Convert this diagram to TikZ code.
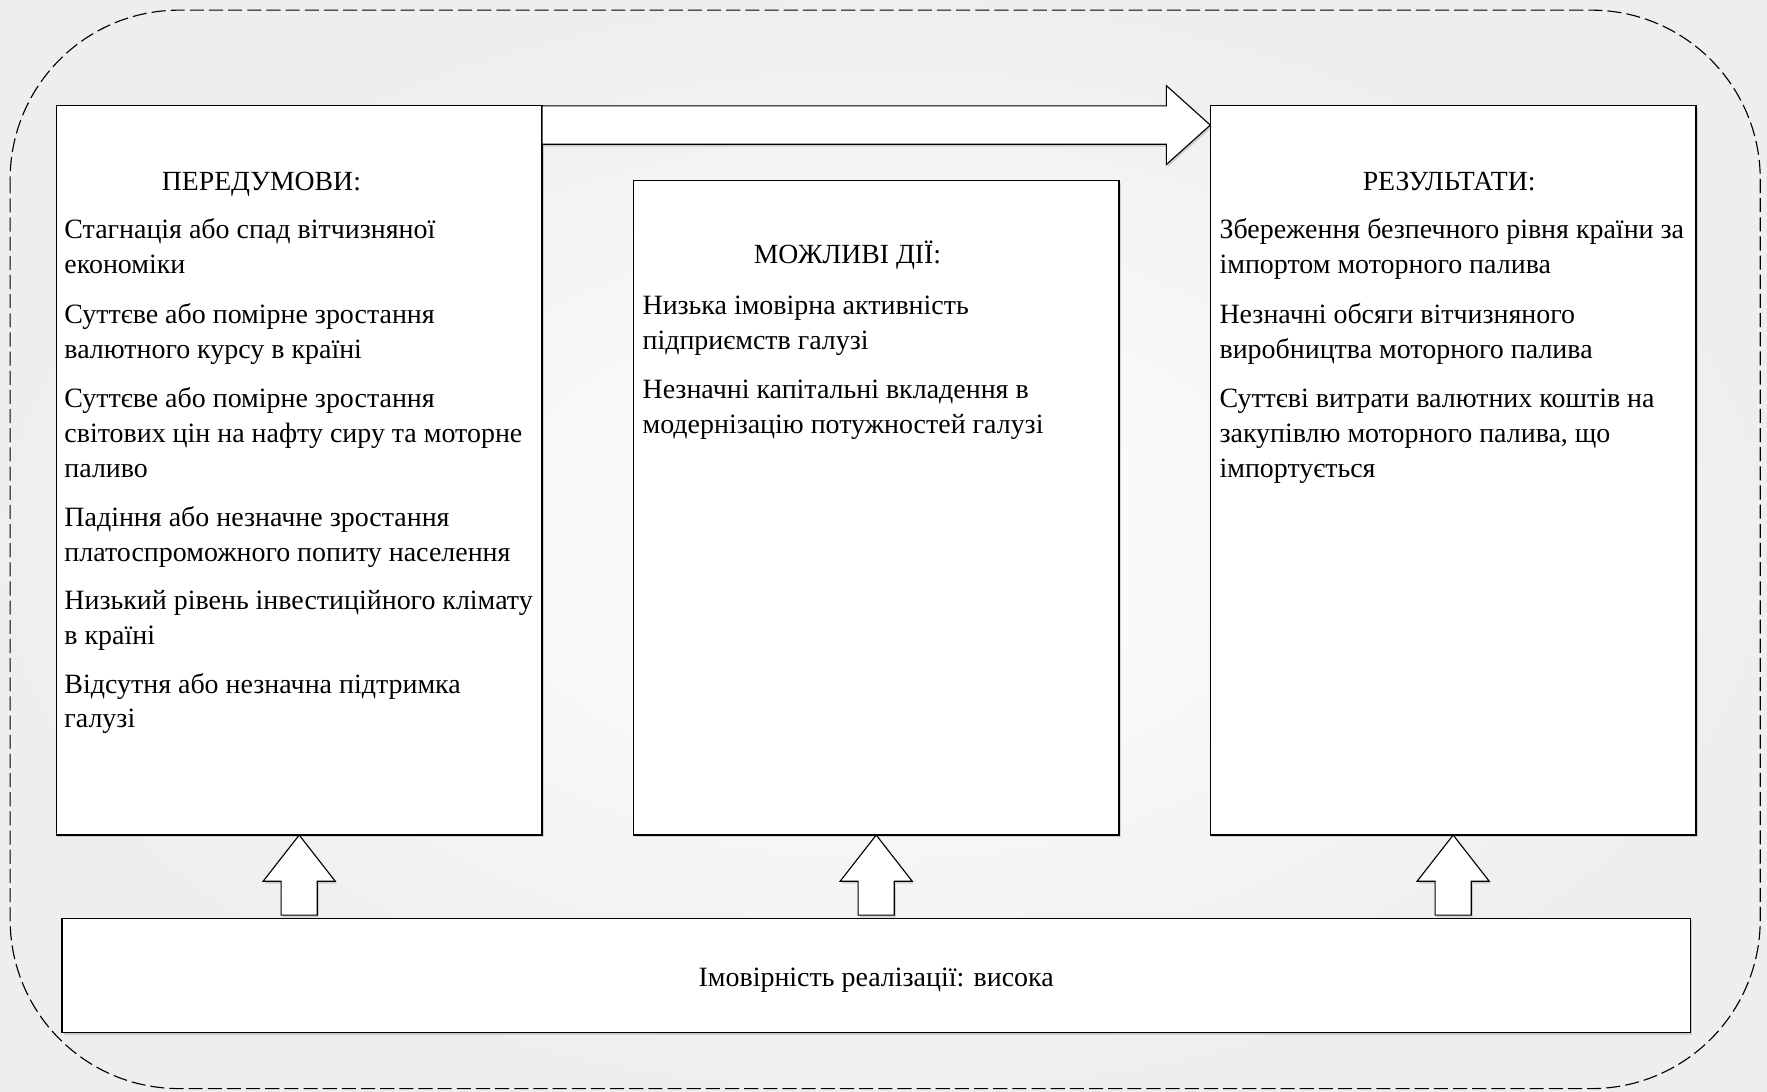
\documentclass[tikz,border=0pt]{standalone}
\usepackage{fontspec}
\setmainfont{Liberation Serif}
\usetikzlibrary{shadows,calc}
\begin{document}
\begin{tikzpicture}[x=1pt,y=-1pt,
  shadowed/.style={drop shadow={shadow xshift=1.5pt, shadow yshift=-2pt, fill=blue!25!gray, opacity=0.25}},
  box/.style={draw=black, line width=1pt, fill=white, inner sep=0pt, outer sep=0pt, anchor=north west, shadowed},
  txt/.style={font=\fontsize{24.8}{31}\selectfont, align=left, anchor=base west, inner sep=0pt},
  hdr/.style={font=\fontsize{24.6}{31}\selectfont, anchor=base, inner sep=0pt},
  barrow/.style={draw=black, line width=1pt, fill=white, line join=miter, shadowed},
  frame/.style={draw=black, line width=1pt, dash pattern=on 12.5pt off 4.5pt, rounded corners=150pt}]
\useasboundingbox (0,0) rectangle (1568,969);
\shade[inner color=white, outer color=gray!13] (0,0) rectangle (1568,969);
\draw[frame] (9,9) rectangle (1562,966);

% boxes
\node[box, minimum width=431pt, minimum height=647pt] (L) at (50,94) {};
\node[box, minimum width=431pt, minimum height=581pt] (M) at (562,160) {};
\node[box, minimum width=431pt, minimum height=647pt] (R) at (1074,94) {};
\node[box, minimum width=1445pt, minimum height=101pt] (B) at (55,815) {};

% big right arrow
\coordinate (tip) at ($(R.north west)+(0,17)$);
\draw[barrow] (L.north east) -- (1035,94) -- (1035,76) -- (tip) -- (1035,146) -- (1035,128) -- (L.north east |- 0,128) -- cycle;

% up arrows
\foreach \k in {L,M,R}{
  \draw[barrow] (\k.south) -- ++(32,41) -- ++(-16,0) -- ++(0,30) -- ++(-32,0) -- ++(0,-30) -- ++(-16,0) -- cycle;
}

% left texts (anchored at baseline of last line)
\node[hdr] (hL) at (232,169) {ПЕРЕДУМОВИ:};
\node[txt] (l1) at (57,243) {Стагнація або спад вітчизняної\\економіки};
\node[txt] (l2) at (57,318) {Суттєве або помірне зростання\\валютного курсу в країні};
\node[txt] (l3) at (57,424) {Суттєве або помірне зростання\\світових цін на нафту сиру та моторне\\паливо};
\node[txt] (l4) at (57,498) {Падіння або незначне зростання\\платоспроможного попиту населення};
\node[txt] (l5) at (57,572) {Низький рівень інвестиційного клімату\\в країні};
\node[txt] (l6) at (57,646) {Відсутня або незначна підтримка\\галузі};

% middle texts
\node[hdr] (hM) at (752,234) {МОЖЛИВІ ДІЇ:};
\node[txt] (m1) at (570,310) {Низька імовірна активність\\підприємств галузі};
\node[txt] (m2) at (570,385) {Незначні капітальні вкладення в\\модернізацію потужностей галузі};

% right texts
\node[hdr] (hR) at (1286,169) {РЕЗУЛЬТАТИ:};
\node[txt] (r1) at (1082,243) {Збереження безпечного рівня країни за\\імпортом моторного палива};
\node[txt] (r2) at (1082,318) {Незначні обсяги вітчизняного\\виробництва моторного палива};
\node[txt] (r3) at (1082,424) {Суттєві витрати валютних коштів на\\закупівлю моторного палива, що\\імпортується};

% bottom text
\node[font=\fontsize{24.8}{31}\selectfont, inner sep=0pt] (bt) at ($(B.center)+(0,4)$) {Імовірність реалізації: висока};
\end{tikzpicture}
\end{document}
